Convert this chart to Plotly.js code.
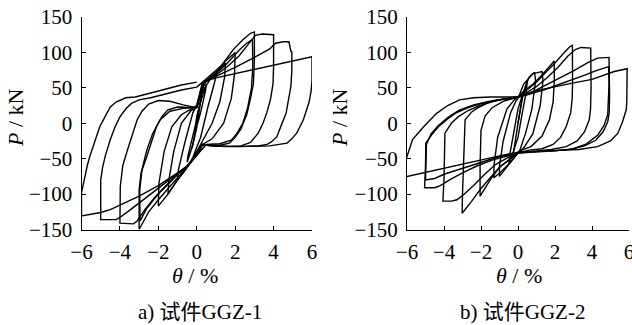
<!DOCTYPE html>
<html>
<head>
<meta charset="utf-8">
<script src="https://cdn.plot.ly/plotly-3.0.1.min.js"></script>
<style>html,body{margin:0;padding:0;background:#fff}#chart{width:632px;height:325px}</style>
</head>
<body>
<div id="chart"></div>
<script>
// ---------- Tick labels / axes ----------
const xTicks = [-6, -4, -2, 0, 2, 4, 6];
const yTicks = [-150, -100, -50, 0, 50, 100, 150];
const panelCaptions = ["a) 试件GGZ-1", "b) 试件GGZ-2"];

// ---------- GGZ-1 hysteresis loops (θ in %, P in kN) ----------
const g1_a_x = [0, 0.1, 0.25, 0.2, 0, -0.1, -0.25, -0.2, 0];
const g1_a_y = [0, 20, 38, 30, 10, -15, -35, -28, -5];
const g1_b_x = [0, 0.2, 0.5, 0.45, 0.2, 0, -0.2, -0.5, -0.45, -0.2, 0];
const g1_b_y = [-5, 30, 55, 45, 15, -5, -30, -55, -45, -15, 5];
const g1_c_x = [0, 0.3, 0.7, 1.0, 0.95, 0.6, 0.2, 0, -0.3, -0.7, -1.0, -0.95, -0.6, -0.2, 0];
const g1_c_y = [5, 45, 62, 72, 60, 25, -20, -35, -55, -70, -80, -65, -25, 15, 25];
const g1_d_x = [0, 0.3, 0.8, 1.2, 1.5, 1.45, 1.2, 0.8, 0.3, 0, -0.3, -0.8, -1.2, -1.5, -1.45, -1.2, -0.8, -0.3, 0];
const g1_d_y = [25, 55, 65, 77, 85, 65, 30, 0, -25, -38, -55, -72, -88, -100, -80, -40, 0, 18, 22];
const g1_e_x = [0, 0.4, 1, 1.5, 2.0, 1.97, 1.8, 1.4, 0.8, 0.3, 0, -0.5, -1, -1.5, -2.0, -1.97, -1.7, -1.3, -0.8, -0.3, 0];
const g1_e_y = [22, 58, 72, 88, 100, 70, 35, 0, -22, -30, -40, -62, -80, -100, -117, -85, -40, -5, 12, 20, 25];
const g1_f_x = [0, 0.3, 0.8, 1.3, 1.9, 2.4, 2.8, 3.0, 3.0, 2.95, 2.8, 2.6, 2.3, 2.0, 1.7, 1.2, 0.7, 0.3, 0, -0.5, -1, -1.5, -2, -2.5, -2.85, -3.0, -3.0, -2.9, -2.6, -2.35, -2.1, -1.8, -1.5, -1.0, -0.5, 0];
const g1_f_y = [25, 58, 70, 82, 104, 118, 127, 129, 90, 56, 35, 12, -8, -20, -28, -31, -31, -30, -45, -62, -77, -92, -108, -125, -142, -150, -94, -70, -47, -25, -5, 10, 19, 23, 23, 22];
const g1_g_x = [0, 0.4, 1, 1.6, 2.2, 2.6, 2.9, 2.92, 2.85, 2.65, 2.4, 2.1, 1.8, 1.2, 0.5, 0, -0.5, -1.2, -2, -2.6, -2.95, -2.97, -2.85, -2.6, -2.3, -1.9, -1.4, -0.7, 0];
const g1_g_y = [22, 57, 70, 85, 103, 113, 118, 80, 50, 22, 0, -14, -24, -29, -30, -45, -60, -78, -100, -120, -138, -95, -65, -38, -15, 5, 17, 21, 22];
const g1_h_x = [0, 0.2, 0.5, 1, 1.6, 2.2, 2.7, 3.05, 3.4, 3.7, 4.0, 4.0, 3.97, 3.85, 3.65, 3.45, 3.2, 2.8, 2.3, 1.5, 0.7, 0.25, 0, -0.5, -1, -1.6, -2.2, -2.7, -3.1, -3.3, -3.7, -4.0, -3.98, -3.85, -3.6, -3.35, -3.1, -2.85, -2.5, -2.0, -1.4, -0.7, 0];
const g1_h_y = [22, 45, 60, 68, 80, 95, 112, 124, 126, 126, 125, 80, 56, 35, 15, 0, -14, -27, -32, -33, -32, -30, -45, -60, -72, -88, -105, -122, -138, -142, -142, -141, -89, -60, -37, -15, 5, 17, 27, 32, 31, 26, 22];
const g1_i_x = [0, 0.2, 0.5, 1, 2, 3, 3.8, 4.1, 4.5, 4.8, 4.9, 4.95, 4.95, 4.9, 4.8, 4.65, 4.4, 4.17, 3.9, 3.65, 3.2, 2.2, 1.2, 0.3, 0, -0.5, -1.2, -2, -2.8, -3.5, -4.0, -4.2, -5.0, -5.0, -4.9, -4.75, -4.5, -4.25, -4.0, -3.7, -3.4, -3.0, -2.4, -1.6, -0.8, 0];
const g1_i_y = [22, 45, 60, 66, 79, 93, 105, 113, 115, 115, 102, 101, 75, 52, 35, 14, -3, -19, -26, -30, -32, -33, -32, -30, -45, -60, -75, -92, -108, -123, -133, -136, -136, -80, -62, -45, -23, -5, 9, 20, 28, 33, 36, 42, 47, 51];
const g1_j_x = [0, 0.3, 1, 2, 3, 4, 5, 5.6, 6, 6.0, 5.95, 5.85, 5.73, 5.55, 5.35, 5.2, 4.95, 4.7, 3.8, 2.8, 1.8, 0.8, 0.3, 0.1, -0.5, -1, -1.5, -2, -3, -4, -4.5, -5, -6, -6, -5.85, -5.7, -5.57, -5.3, -5.05, -4.8, -4.5, -4.2, -3.7, -3.2, -2.5, -1.6, -0.8, 0];
const g1_j_y = [51, 58, 64, 70, 77, 83, 89, 92, 94, 61, 45, 30, 19, 5, -6, -14, -22, -28, -32, -33, -33, -32, -30, -42, -61, -70, -79, -88, -103, -116, -122, -126, -131, -98, -78, -60, -47, -26, -5, 8, 23, 30, 36, 37, 42, 48, 54, 58];

// ---------- GGZ-2 hysteresis loops (θ in %, P in kN) ----------
const g2_a_x = [0, 0.15, 0.25, 0.2, 0, -0.15, -0.25, -0.2, 0];
const g2_a_y = [0, 25, 40, 30, 0, -25, -42, -30, 0];
const g2_b_x = [0, 0.25, 0.5, 0.45, 0.2, 0, -0.25, -0.5, -0.45, -0.2, 0];
const g2_b_y = [0, 38, 60, 45, 10, -20, -40, -58, -45, -10, 20];
const g2_c_x = [0, 0.3, 0.6, 0.9, 0.95, 0.75, 0.4, 0.1, -0.2, -0.6, -1.0, -1.0, -0.8, -0.4, -0.1, 0];
const g2_c_y = [20, 45, 65, 72, 60, 20, -15, -38, -48, -62, -75, -60, -25, 15, 32, 35];
const g2_d_x = [0, 0.3, 0.8, 1.3, 1.35, 1.2, 0.8, 0.3, 0, -0.4, -0.9, -1.3, -1.3, -1.1, -0.6, -0.2, 0];
const g2_d_y = [35, 55, 70, 73, 60, 25, -15, -35, -42, -55, -68, -77, -60, -20, 20, 33, 37];
const g2_e_x = [0, 0.3, 0.8, 1.3, 1.7, 1.96, 1.96, 1.9, 1.7, 1.3, 0.7, 0.2, 0, -0.4, -1, -1.5, -1.85, -2.05, -2.05, -2.0, -1.78, -1.4, -0.8, -0.2, 0];
const g2_e_y = [37, 45, 55, 68, 80, 88, 60, 30, 5, -18, -33, -38, -42, -50, -62, -80, -95, -103, -60, -10, 10, 22, 31, 35, 37];
const g2_f_x = [0, 0.4, 1, 1.5, 2, 2.5, 2.8, 2.94, 2.96, 2.95, 2.93, 2.85, 2.6, 2.3, 1.9, 1.3, 0.6, 0.2, 0, -0.5, -1, -1.5, -2, -2.5, -2.85, -3.02, -3.0, -2.95, -2.9, -2.86, -2.5, -2.16, -1.6, -1.0, -0.5, 0];
const g2_f_y = [37, 45, 58, 72, 85, 100, 108, 110, 90, 60, 35, 15, -5, -20, -30, -36, -38, -40, -42, -52, -62, -77, -92, -110, -122, -127, -100, -60, -20, 5, 16, 22, 29, 33, 35, 37];
const g2_g_x = [0, 0.4, 1, 1.6, 2.2, 2.7, 3.1, 3.4, 3.93, 3.95, 3.95, 3.92, 3.85, 3.6, 3.2, 2.6, 1.8, 1.0, 0.4, 0, -0.5, -1.2, -1.8, -2.4, -2.9, -3.3, -3.6, -4.06, -4.0, -3.97, -3.95, -3.6, -3.24, -2.7, -2.16, -1.5, -0.8, 0];
const g2_g_y = [37, 42, 52, 65, 80, 95, 104, 107, 106, 85, 50, 20, 5, -12, -25, -33, -37, -39, -40, -42, -48, -58, -72, -88, -100, -108, -110, -110, -80, -40, -14, 0, 9, 18, 24, 30, 34, 37];
const g2_h_x = [0, 0.4, 1, 2, 3, 3.8, 4.3, 4.92, 4.95, 4.95, 4.93, 4.85, 4.6, 4.2, 3.6, 2.8, 1.8, 0.8, 0, -0.6, -1.4, -2.2, -3, -3.7, -4.2, -4.5, -5.05, -5.0, -4.98, -4.6, -4.3, -3.8, -3.4, -2.7, -1.96, -1.0, 0];
const g2_h_y = [37, 40, 47, 60, 74, 86, 92, 93, 70, 40, 15, 2, -12, -24, -32, -37, -39, -40, -42, -46, -52, -60, -70, -80, -88, -91, -91, -60, -28, -14, -5, 6, 14, 22, 28, 33, 37];
const g2_i_x = [0, 0.5, 1.5, 2.5, 3.5, 4.3, 4.9, 4.92, 4.9, 4.85, 4.65, 4.3, 3.7, 3, 2, 1, 0, -1, -2, -3, -4, -4.5, -5.0, -4.97, -4.95, -4.7, -4.3, -3.8, -3.2, -2.4, -1.4, -0.6, 0];
const g2_i_y = [37, 40, 48, 57, 67, 75, 80, 55, 30, 12, -3, -17, -29, -36, -39, -40, -42, -47, -55, -63, -72, -78, -80, -50, -30, -15, -3, 8, 18, 26, 32, 35, 37];
const g2_j_x = [0, 0.3, 1, 2, 3, 4, 4.7, 5.2, 5.9, 5.9, 5.88, 5.85, 5.65, 5.4, 5.0, 4.3, 3.3, 2.5, 1.5, 0, -1, -2, -3, -4, -5, -6, -6.3, -6.15, -6.0, -5.7, -5.1, -4.4, -3.8, -3.16, -2.4, -1.5, 0];
const g2_j_y = [36, 40, 46, 52, 57, 62, 68, 73, 77, 55, 30, 19, 2, -14, -25, -33, -37, -38, -39, -41, -46, -52, -58, -64, -70, -75, -77, -62, -47, -23, -5, 14, 25, 33, 36, 37, 37];

const ggz1 = [[g1_a_x, g1_a_y], [g1_b_x, g1_b_y], [g1_c_x, g1_c_y], [g1_d_x, g1_d_y], [g1_e_x, g1_e_y],
              [g1_f_x, g1_f_y], [g1_g_x, g1_g_y], [g1_h_x, g1_h_y], [g1_i_x, g1_i_y], [g1_j_x, g1_j_y]];
const ggz2 = [[g2_a_x, g2_a_y], [g2_b_x, g2_b_y], [g2_c_x, g2_c_y], [g2_d_x, g2_d_y], [g2_e_x, g2_e_y],
              [g2_f_x, g2_f_y], [g2_g_x, g2_g_y], [g2_h_x, g2_h_y], [g2_i_x, g2_i_y], [g2_j_x, g2_j_y]];

const lineStyle = {color: '#000', width: 1.4};
const traces = [];
ggz1.forEach(([x, y]) => traces.push({x, y, type: 'scatter', mode: 'lines', line: lineStyle,
  xaxis: 'x', yaxis: 'y', showlegend: false, hoverinfo: 'skip'}));
ggz2.forEach(([x, y]) => traces.push({x, y, type: 'scatter', mode: 'lines', line: lineStyle,
  xaxis: 'x2', yaxis: 'y2', showlegend: false, hoverinfo: 'skip'}));

const W = 632, H = 325;
const serif = 'Liberation Serif';
const tickFont = {family: serif, size: 21, color: '#000'};
const yDom = [1 - 229.5 / H, 1 - 17 / H];

function xAxis(dom, anchor) {
  return {domain: dom, anchor, range: [-6, 6], tickmode: 'array', tickvals: xTicks,
    ticktext: xTicks.map(v => v < 0 ? '\u2212' + Math.abs(v) : String(v)),
    ticks: 'inside', ticklen: 4, tickcolor: '#000', showline: true, linecolor: '#000', linewidth: 1,
    showgrid: false, zeroline: false, tickfont: tickFont, ticklabelstandoff: 3,
    ticklabeloverflow: 'allow', fixedrange: true};
}
function yAxis(anchor) {
  return {domain: yDom, anchor, range: [-150, 150], tickmode: 'array', tickvals: yTicks,
    ticktext: yTicks.map(v => v < 0 ? '\u2212' + Math.abs(v) : String(v)),
    ticks: 'inside', ticklen: 4, tickcolor: '#000', showline: true, linecolor: '#000', linewidth: 1,
    showgrid: false, zeroline: false, tickfont: tickFont, ticklabelstandoff: 4,
    ticklabeloverflow: 'allow', fixedrange: true};
}

function ann(text, px, py, extra) {
  return Object.assign({text, x: px / W, y: 1 - py / H, xref: 'paper', yref: 'paper',
    showarrow: false, xanchor: 'center', yanchor: 'middle',
    font: {family: serif, size: 22, color: '#000'}}, extra || {});
}
const capFont = {family: 'Liberation Serif, Noto Sans CJK SC', size: 21, color: '#000'};

const layout = {
  width: W, height: H,
  margin: {l: 0, r: 0, t: 0, b: 0},
  paper_bgcolor: '#fff', plot_bgcolor: '#fff',
  xaxis: xAxis([81.5 / W, 312 / W], 'y'),
  yaxis: yAxis('x'),
  xaxis2: xAxis([407 / W, 629 / W], 'y2'),
  yaxis2: yAxis('x2'),
  annotations: [
    ann('<i>θ</i> / %', 195, 275),
    ann('<i>θ</i> / %', 519, 275),
    ann('<i>P</i> / kN', 15, 118, {textangle: -90}),
    ann('<i>P</i> / kN', 339, 118, {textangle: -90}),
    ann(panelCaptions[0], 200, 312, {font: capFont}),
    ann(panelCaptions[1], 522, 312, {font: capFont})
  ]
};

Plotly.newPlot('chart', traces, layout, {displayModeBar: false, staticPlot: true});
</script>
</body>
</html>
